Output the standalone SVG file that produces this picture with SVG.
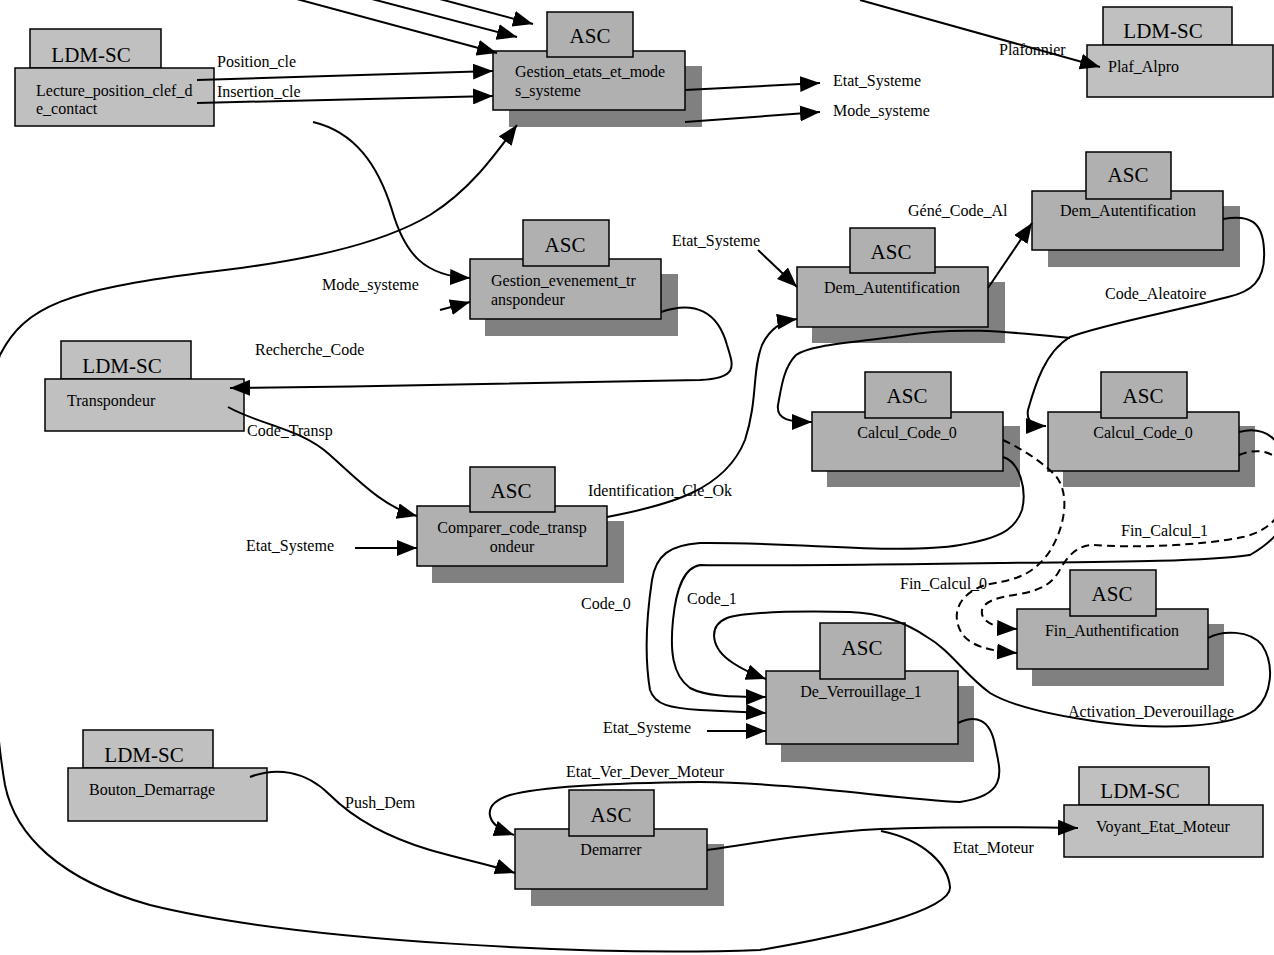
<svg xmlns="http://www.w3.org/2000/svg" width="1274" height="955" viewBox="0 0 1274 955">
<defs>
<marker id="ah" viewBox="0 0 20 16" refX="20" refY="8" markerWidth="20" markerHeight="16" markerUnits="userSpaceOnUse" orient="auto">
<path d="M0,0 L20,8 L0,16 z" fill="#000"/>
</marker>
<style>
text{font-family:"Liberation Serif","Times New Roman",serif;fill:#000}
.t{font-size:16px}
.h{font-size:21px}
.m{text-anchor:middle}
.ldm{fill:#c0c0c0;stroke:#000;stroke-width:1.5}
.asc{fill:#b0b0b0;stroke:#000;stroke-width:1.5}
.sh{fill:#808080}
.c{fill:none;stroke:#000;stroke-width:2}
.a{marker-end:url(#ah)}
.d{stroke-dasharray:8,5}
</style>
</defs>
<rect width="1274" height="955" fill="#fff"/>

<g id="n-lecture">
<rect class="ldm" x="30" y="29" width="131" height="39"/>
<rect class="ldm" x="15" y="68" width="199" height="58"/>
<text class="h m" x="91" y="62">LDM-SC</text>
<text class="t" x="36" y="96">Lecture_position_clef_d</text>
<text class="t" x="36" y="114">e_contact</text>
</g>

<g id="n-gestion-etats">
<rect class="sh" x="509" y="66" width="193" height="61"/>
<rect class="asc" x="493" y="51" width="192" height="59"/>
<rect class="asc" x="547" y="12" width="86" height="45"/>
<text class="h m" x="590" y="43">ASC</text>
<text class="t" x="515" y="77">Gestion_etats_et_mode</text>
<text class="t" x="515" y="96">s_systeme</text>
</g>

<g id="n-plaf">
<rect class="ldm" x="1103" y="7" width="129" height="38"/>
<rect class="ldm" x="1087" y="45" width="186" height="52"/>
<text class="h m" x="1163" y="38">LDM-SC</text>
<text class="t" x="1108" y="72">Plaf_Alpro</text>
</g>

<g id="n-gestion-evt">
<rect class="sh" x="485" y="274" width="193" height="62"/>
<rect class="asc" x="470" y="259" width="191" height="60"/>
<rect class="asc" x="523" y="220" width="86" height="46"/>
<text class="h m" x="565" y="252">ASC</text>
<text class="t" x="491" y="286">Gestion_evenement_tr</text>
<text class="t" x="491" y="305">anspondeur</text>
</g>

<g id="n-dem-aut-1">
<rect class="sh" x="812" y="282" width="193" height="61"/>
<rect class="asc" x="797" y="267" width="191" height="60"/>
<rect class="asc" x="850" y="228" width="85" height="45"/>
<text class="h m" x="891" y="259">ASC</text>
<text class="t m" x="892" y="293">Dem_Autentification</text>
</g>

<g id="n-dem-aut-2">
<rect class="sh" x="1048" y="206" width="192" height="61"/>
<rect class="asc" x="1032" y="191" width="191" height="59"/>
<rect class="asc" x="1086" y="152" width="85" height="47"/>
<text class="h m" x="1128" y="182">ASC</text>
<text class="t m" x="1128" y="216">Dem_Autentification</text>
</g>

<g id="n-transpondeur">
<rect class="ldm" x="61" y="341" width="130" height="38"/>
<rect class="ldm" x="45" y="379" width="199" height="52"/>
<text class="h m" x="122" y="373">LDM-SC</text>
<text class="t" x="67" y="406">Transpondeur</text>
</g>

<g id="n-comparer">
<rect class="sh" x="432" y="521" width="192" height="62"/>
<rect class="asc" x="417" y="506" width="190" height="60"/>
<rect class="asc" x="470" y="467" width="85" height="45"/>
<text class="h m" x="511" y="498">ASC</text>
<text class="t m" x="512" y="533">Comparer_code_transp</text>
<text class="t m" x="512" y="552">ondeur</text>
</g>

<g id="n-calcul-0a">
<rect class="sh" x="827" y="426" width="193" height="61"/>
<rect class="asc" x="812" y="412" width="191" height="59"/>
<rect class="asc" x="865" y="372" width="86" height="46"/>
<text class="h m" x="907" y="403">ASC</text>
<text class="t m" x="907" y="438">Calcul_Code_0</text>
</g>

<g id="n-calcul-0b">
<rect class="sh" x="1063" y="426" width="192" height="61"/>
<rect class="asc" x="1048" y="412" width="191" height="59"/>
<rect class="asc" x="1101" y="372" width="86" height="46"/>
<text class="h m" x="1143" y="403">ASC</text>
<text class="t m" x="1143" y="438">Calcul_Code_0</text>
</g>

<g id="n-fin-auth">
<rect class="sh" x="1032" y="624" width="192" height="62"/>
<rect class="asc" x="1017" y="609" width="191" height="60"/>
<rect class="asc" x="1070" y="570" width="86" height="46"/>
<text class="h m" x="1112" y="601">ASC</text>
<text class="t m" x="1112" y="636">Fin_Authentification</text>
</g>

<g id="n-deverrouillage">
<rect class="sh" x="781" y="686" width="193" height="76"/>
<rect class="asc" x="766" y="671" width="192" height="73"/>
<rect class="asc" x="820" y="623" width="85" height="56"/>
<text class="h m" x="862" y="655">ASC</text>
<text class="t m" x="861" y="697">De_Verrouillage_1</text>
</g>

<g id="n-bouton">
<rect class="ldm" x="83" y="730" width="130" height="38"/>
<rect class="ldm" x="68" y="768" width="199" height="53"/>
<text class="h m" x="144" y="762">LDM-SC</text>
<text class="t" x="89" y="795">Bouton_Demarrage</text>
</g>

<g id="n-demarrer">
<rect class="sh" x="531" y="844" width="193" height="62"/>
<rect class="asc" x="515" y="829" width="192" height="60"/>
<rect class="asc" x="569" y="790" width="85" height="46"/>
<text class="h m" x="611" y="822">ASC</text>
<text class="t m" x="611" y="855">Demarrer</text>
</g>

<g id="n-voyant">
<rect class="ldm" x="1079" y="767" width="130" height="38"/>
<rect class="ldm" x="1064" y="805" width="199" height="52"/>
<text class="h m" x="1140" y="798">LDM-SC</text>
<text class="t" x="1096" y="832">Voyant_Etat_Moteur</text>
</g>

<g id="connectors">
<path class="c a" d="M293,-2 L497,53"/>
<path class="c a" d="M368,-2 L517,37"/>
<path class="c a" d="M436,-2 L533,24"/>
<path class="c a" d="M860,0 L1100,67"/>
<path class="c a" d="M197,80 L493,71"/>
<path class="c a" d="M197,103 L493,96"/>
<path class="c a" d="M685,90 L820,83"/>
<path class="c a" d="M685,122 L820,112"/>
<path class="c a" d="M313,122 C355,132 378,165 392,210 C405,255 425,276 470,278"/>
<path class="c a" d="M440,310 L470,302"/>
<path class="c a" d="M661,312 C695,300 718,312 727,345 C733,365 740,378 700,380 C600,383 400,386 230,388"/>
<path class="c a" d="M228,407 C260,425 300,428 330,455 C360,482 385,508 417,516"/>
<path class="c a" d="M355,548 L417,548"/>
<path class="c a" d="M758,250 L797,287"/>
<path class="c a" d="M607,517 C670,505 725,490 745,440 C758,400 752,370 762,345 C770,328 782,321 797,319"/>
<path class="c a" d="M988,288 L1032,223"/>
<path class="c a" d="M1223,219 C1250,214 1263,222 1264,250 C1266,282 1250,292 1228,297 C1180,310 1100,325 1070,337 C1045,352 1035,385 1028,410 C1026,422 1034,426 1046,426"/>
<path class="c a" d="M1070,338 C1010,332 960,326 900,336 C850,343 810,345 796,355 C783,368 781,390 778,405 C776,420 790,422 812,422"/>
<path class="c a" d="M1003,457 C1020,462 1027,490 1022,510 C1015,530 1000,538 960,545 C900,555 800,542 700,543 C670,545 656,555 652,580 C646,620 645,660 650,690 C655,705 670,708 700,710 L766,713"/>
<path class="c a" d="M1239,432 C1262,426 1285,435 1290,480 C1292,520 1280,538 1250,555 C1200,562 1100,562 1000,563 C850,565 750,566 700,565 C683,568 676,590 673,620 C670,650 672,675 690,688 C705,696 730,697 766,697"/>
<path class="c a" d="M1208,638 C1222,630 1250,630 1262,645 C1275,665 1272,695 1255,710 C1230,728 1160,730 1100,722 C1050,715 1010,705 990,693 C965,675 950,650 927,637 C905,622 880,613 850,612 C800,611 745,612 727,618 C708,626 710,648 733,663 C745,671 755,675 766,679"/>
<path class="c a" d="M707,731 L766,731"/>
<path class="c a d" d="M1003,440 C1020,448 1040,460 1055,475 C1068,490 1066,515 1058,535 C1050,555 1040,565 1027,573 C1015,580 1000,582 985,585 C965,592 955,605 957,620 C960,640 975,650 1017,653"/>
<path class="c a d" d="M1239,455 C1262,445 1285,455 1288,480 C1290,505 1275,530 1243,537 C1200,546 1130,548 1093,545 C1075,545 1065,560 1058,573 C1050,585 1040,590 1020,594 C1000,597 985,600 982,610 C980,622 995,628 1017,629"/>
<path class="c a" d="M958,723 C975,715 990,718 995,745 C1000,770 1010,795 960,802 C900,800 800,783 700,782 C600,783 540,787 510,795 C480,805 485,825 514,835"/>
<path class="c a" d="M250,777 C275,767 305,770 330,795 C355,820 390,838 430,850 C465,860 495,866 515,873"/>
<path class="c a" d="M707,850 C760,842 820,832 881,829 C950,826 1020,827 1078,828"/>
<path class="c a" d="M881,831 C925,840 948,865 950,887 C952,910 850,935 760,950 C600,956 300,942 150,905 C60,880 15,835 5,785 C-10,700 -25,430 0,355 C25,305 70,290 200,273 C300,262 380,245 430,215 C470,190 495,155 517,125"/>
</g>

<g id="labels">
<text class="t" x="217" y="67">Position_cle</text>
<text class="t" x="217" y="97">Insertion_cle</text>
<text class="t" x="833" y="86">Etat_Systeme</text>
<text class="t" x="833" y="116">Mode_systeme</text>
<text class="t" x="999" y="55">Plafonnier</text>
<text class="t" x="322" y="290">Mode_systeme</text>
<text class="t" x="255" y="355">Recherche_Code</text>
<text class="t" x="247" y="436">Code_Transp</text>
<text class="t" x="672" y="246">Etat_Systeme</text>
<text class="t" x="908" y="216">Géné_Code_Al</text>
<text class="t" x="1105" y="299">Code_Aleatoire</text>
<text class="t" x="588" y="496">Identification_Cle_Ok</text>
<text class="t" x="246" y="551">Etat_Systeme</text>
<text class="t" x="581" y="609">Code_0</text>
<text class="t" x="687" y="604">Code_1</text>
<text class="t" x="1121" y="536">Fin_Calcul_1</text>
<text class="t" x="900" y="589">Fin_Calcul_0</text>
<text class="t" x="1068" y="717">Activation_Deverouillage</text>
<text class="t" x="603" y="733">Etat_Systeme</text>
<text class="t" x="566" y="777">Etat_Ver_Dever_Moteur</text>
<text class="t" x="345" y="808">Push_Dem</text>
<text class="t" x="953" y="853">Etat_Moteur</text>
</g>
</svg>
